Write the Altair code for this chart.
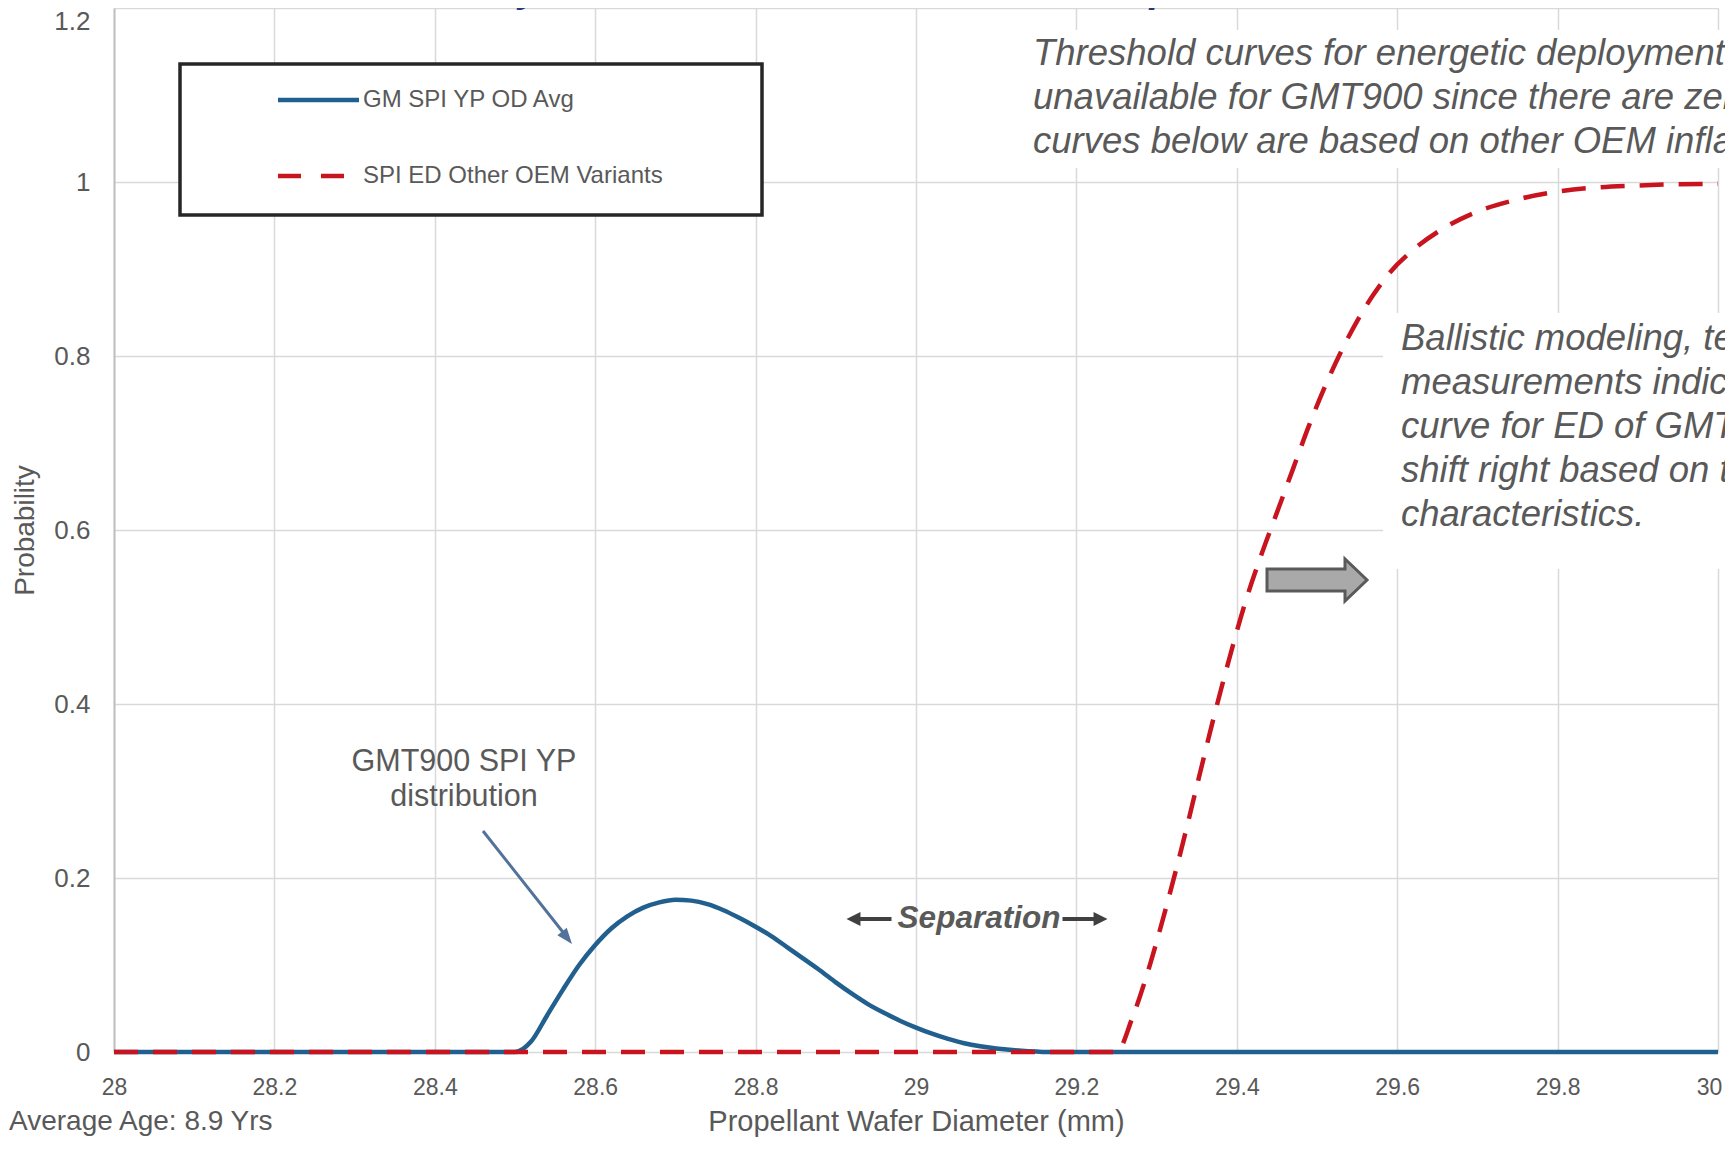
import altair as alt
import pandas as pd

# ---------------- data ----------------
series_names = ["GM SPI YP OD Avg", "SPI ED Other OEM Variants"]

diam_blue = [28.0, 28.5, 28.52, 28.54, 28.56, 28.58, 28.60, 28.62, 28.64, 28.66, 28.68,
             28.70, 28.72, 28.74, 28.76, 28.78, 28.80, 28.82, 28.84, 28.86, 28.88, 28.90,
             28.92, 28.94, 28.96, 28.98, 29.00, 29.02, 29.04, 29.06, 29.08, 29.10, 29.12,
             29.14, 29.17, 30.0]
prob_blue = [0, 0, 0.012, 0.042, 0.072, 0.100, 0.123, 0.142, 0.156, 0.166, 0.172,
             0.175, 0.174, 0.170, 0.163, 0.154, 0.144, 0.133, 0.120, 0.107, 0.094, 0.080,
             0.067, 0.055, 0.045, 0.036, 0.028, 0.021, 0.015, 0.010, 0.0065, 0.004, 0.0022,
             0.001, 0.0, 0.0]

diam_red = [28.0, 29.25, 29.27, 29.29, 29.31, 29.33, 29.35, 29.37, 29.39, 29.41, 29.43,
            29.45, 29.47, 29.49, 29.51, 29.53, 29.55, 29.57, 29.59, 29.62, 29.66, 29.70,
            29.75, 29.80, 29.90, 30.0]
prob_red = [0, 0, 0.04, 0.095, 0.16, 0.23, 0.305, 0.38, 0.45, 0.515, 0.57,
            0.62, 0.67, 0.72, 0.765, 0.805, 0.84, 0.87, 0.895, 0.922, 0.948, 0.966,
            0.980, 0.989, 0.996, 0.998]

x_ticks = [28.0, 28.2, 28.4, 28.6, 28.8, 29.0, 29.2, 29.4, 29.6, 29.8, 30.0]
y_ticks = [0.0, 0.2, 0.4, 0.6, 0.8, 1.0, 1.2]

title_text = "GMT900 Survey YP Field Return Estimated Compared to the Chance of ED"
x_title = "Propellant Wafer Diameter (mm)"
y_title = "Probability"
note_top = ["Threshold curves for energetic deployment (ED) are",
            "unavailable for GMT900 since there are zero ED events;",
            "curves below are based on other OEM inflators."]
note_right = ["Ballistic modeling, testing and",
              "measurements indicate that the",
              "curve for ED of GMT900 would",
              "shift right based on their",
              "characteristics."]
note_dist = ["GMT900 SPI YP", "distribution"]
note_sep = "Separation"
note_age = "Average Age: 8.9 Yrs"

# ---------------- styles ----------------
FONT = "Liberation Sans, Arial, sans-serif"
GRAY = "#595959"
BLUE = "#21608e"
RED = "#c8141e"
W, H = 1604, 1044

blue_df = pd.DataFrame({"diameter": diam_blue, "probability": prob_blue})
red_df = pd.DataFrame({"diameter": diam_red, "probability": prob_red})

x_scale = alt.Scale(domain=[28, 30], nice=False, zero=False)
y_scale = alt.Scale(domain=[0, 1.2], nice=False, zero=True)

x_axis = alt.Axis(values=x_ticks, format="~g", title=x_title, grid=True,
                  gridColor="#d9d9d9", gridWidth=1.5, domain=False, ticks=False,
                  labelFont=FONT, labelFontSize=23, labelColor=GRAY, labelPadding=24,
                  labelFlush=False, labelOverlap=False,
                  labelOffset={"condition": {"test": "datum.value === 30", "value": -9},
                               "value": 0},
                  titleFont=FONT, titleFontSize=29, titleFontWeight="normal",
                  titleColor=GRAY, titleX=W / 2, titleY=69, titleBaseline="middle")
y_axis = alt.Axis(values=y_ticks, format="~g", title=y_title, grid=True,
                  gridColor="#d9d9d9", gridWidth=1.5, domain=True,
                  domainColor="#bfbfbf", domainWidth=2, ticks=False,
                  labelFont=FONT, labelFontSize=26, labelColor=GRAY, labelPadding=24,
                  labelFlush=False, labelOverlap=False,
                  labelOffset={"condition": {"test": "datum.value === 1.2", "value": 13},
                               "value": 0},
                  titleFont=FONT, titleFontSize=28, titleFontWeight="normal",
                  titleColor=GRAY, titleX=-89, titleY=H / 2, titleAngle=270,
                  titleBaseline="middle", titleAlign="center")


def enc(ch):
    return ch.encode(
        x=alt.X("diameter:Q", scale=x_scale, axis=x_axis),
        y=alt.Y("probability:Q", scale=y_scale, axis=y_axis),
    )


one = alt.Data(values=[{}])


def box(x, x2, y, y2, **kw):
    return alt.Chart(one).mark_rect(**kw).encode(
        x=alt.value(x), x2=alt.value(x2), y=alt.value(y), y2=alt.value(y2))


def rule(x, x2, y, y2, **kw):
    return alt.Chart(one).mark_rule(**kw).encode(
        x=alt.value(x), x2=alt.value(x2), y=alt.value(y), y2=alt.value(y2))


def txt(s, x, y, **kw):
    return alt.Chart(one).mark_text(text=s, font=FONT, **kw).encode(
        x=alt.value(x), y=alt.value(y))


def sym(path, x, y, size, **kw):
    return alt.Chart(one).mark_point(shape=path, size=size, filled=True, **kw).encode(
        x=alt.value(x), y=alt.value(y))


# white boxes behind annotation text (hide the grid)
box_top = box(905, 1640, 22, 160, fill="white")
box_right = box(1269, 1640, 305, 561, fill="white")

blue_line = enc(alt.Chart(blue_df).mark_line(color=BLUE, strokeWidth=4.5,
                                              interpolate="monotone"))
red_line = enc(alt.Chart(red_df).mark_line(color=RED, strokeWidth=4.5,
                                            strokeDash=[24, 15], interpolate="monotone"))

# legend
leg_box = box(66, 648, 56, 207, fill="white", stroke="#262626", strokeWidth=3.5)
leg_blue = rule(164, 245, 92, 92, color=BLUE, strokeWidth=4.5)
leg_red = rule(164, 230, 168, 168, color=RED, strokeWidth=4.5, strokeDash=[23, 20])
leg_t1 = txt(series_names[0], 249, 92, fontSize=24, color=GRAY, align="left", baseline="middle")
leg_t2 = txt(series_names[1], 249, 168, fontSize=24, color=GRAY, align="left", baseline="middle")

# annotations
t_title = txt(title_text, 831, -6, fontSize=40, fontWeight="bold", fontStyle="italic",
              color="#1f3a7a", align="center", baseline="alphabetic")
t_top = txt(note_top, 919, 28, fontSize=36.5, fontStyle="italic", color=GRAY,
            align="left", baseline="top", lineHeight=44)
t_right = txt(note_right, 1287, 313, fontSize=36.5, fontStyle="italic", color=GRAY,
              align="left", baseline="top", lineHeight=44)
t_dist = txt(note_dist, 350, 739, fontSize=30.5, color=GRAY, align="center",
             baseline="top", lineHeight=34.5)
t_sep = txt(note_sep, 865, 911, fontSize=31.5, fontWeight="bold", fontStyle="italic",
            color=GRAY, align="center", baseline="middle")
t_age = txt(note_age, -105, 1122, fontSize=28, color=GRAY, align="left", baseline="alphabetic")

# arrows
arrow_color = "#52729a"
diag_shaft = rule(369, 452, 823, 928, color=arrow_color, strokeWidth=3)
diag_head = sym("M 0 0 L -0.6 1.6 L 0.6 1.6 Z", 458, 936, 400, angle=141.5,
                color=arrow_color, strokeWidth=0, opacity=1)

right_path = "M -1 -0.09 L 0.38 -0.09 L 0.38 -0.31 L 1 0 L 0.38 0.31 L 0.38 0.09 L -1 0.09 Z"
left_path = "M 1 -0.09 L -0.38 -0.09 L -0.38 -0.31 L -1 0 L -0.38 0.31 L -0.38 0.09 L 1 0.09 Z"
sep_left = sym(left_path, 755, 911, 2025, color="#404040", strokeWidth=0, opacity=1)
sep_right = sym(right_path, 971, 911, 2025, color="#404040", strokeWidth=0, opacity=1)

block_path = "M -1 -0.22 L 0.56 -0.22 L 0.56 -0.42 L 1 0 L 0.56 0.42 L 0.56 0.22 L -1 0.22 Z"
block_arrow = sym(block_path, 1203, 572, 10000, fill="#a9a9a9", stroke="#5a5a5a",
                  strokeWidth=3, opacity=1, fillOpacity=1)

chart = alt.layer(
    box_top, box_right,
    blue_line, red_line,
    leg_box, leg_blue, leg_red, leg_t1, leg_t2,
    t_title, t_top, t_right, t_dist, t_sep, t_age,
    diag_shaft, diag_head, sep_left, sep_right, block_arrow,
).properties(
    width=W, height=H,
    autosize=alt.AutoSizeParams(type="none"),
    padding={"left": 106, "top": 0, "right": 7, "bottom": 86},
    background="white",
).configure_view(stroke=None)

chart.save("out.html", embed_options={"renderer": "svg", "actions": False})
